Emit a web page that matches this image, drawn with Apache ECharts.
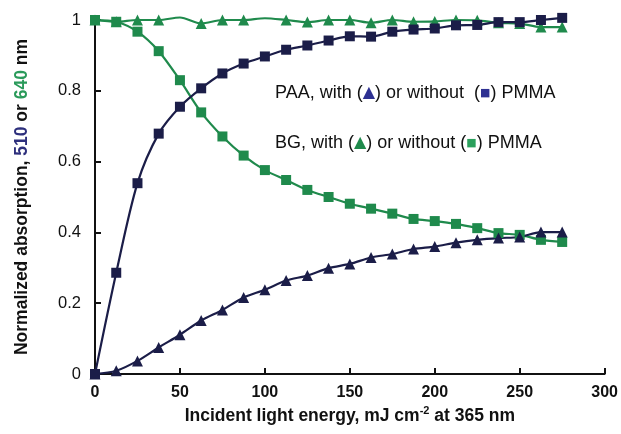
<!DOCTYPE html>
<html>
<head>
  <meta charset="UTF-8">
  <title>Normalized absorption</title>
  <script src="https://cdn.jsdelivr.net/npm/echarts@6/dist/echarts.min.js"></script>
  <style>
    html, body { margin: 0; padding: 0; background: #fff; }
    #main { width: 621px; height: 434px; }
  </style>
</head>
<body>
<div id="main"></div>
<script>
  // incident energy, mJ cm-2
  const energy = [0, 12.5, 25, 37.5, 50, 62.5, 75, 87.5, 100, 112.5, 125, 137.5, 150,
    162.5, 175, 187.5, 200, 212.5, 225, 237.5, 250, 262.5, 275];
  // PAA (510 nm)
  const paaWithout = [0, 0.286, 0.539, 0.679, 0.755, 0.807, 0.849, 0.877, 0.897, 0.916, 0.928, 0.942,
    0.954, 0.953, 0.967, 0.973, 0.976, 0.985, 0.986, 0.994, 0.994, 1.0, 1.006];
  const paaWith = [0, 0.009, 0.037, 0.075, 0.111, 0.151, 0.181, 0.216, 0.238, 0.264, 0.278, 0.299,
    0.311, 0.329, 0.339, 0.353, 0.360, 0.371, 0.379, 0.384, 0.387, 0.401, 0.401];
  // BG (640 nm)
  const bgWithout = [1.0, 0.995, 0.967, 0.912, 0.830, 0.739, 0.671, 0.617, 0.576, 0.548, 0.520, 0.500,
    0.481, 0.467, 0.453, 0.438, 0.432, 0.424, 0.412, 0.398, 0.393, 0.379, 0.373];
  const bgWith = [1.0, 0.995, 1.0, 1.0, 1.007, 0.99, 1.0, 1.0, 1.005, 1.0, 0.994, 1.0,
    1.0, 0.992, 1.0, 0.995, 0.996, 1.0, 0.999, 0.992, 0.99, 0.98, 0.98];
  // points of the BG-with curve drawn without a marker
  const bgWithNoMarker = [50, 100];

  const xTicks = [0, 50, 100, 150, 200, 250, 300];
  const yTicks = [0, 0.2, 0.4, 0.6, 0.8, 1];

  const NAVY = '#1b1d48';
  const GREEN = '#1f8a4c';
  const FONT = 'Liberation Sans, Arial, sans-serif';

  function pairs(ys, skip) {
    return energy.map(function (x, i) {
      let item = { value: [x, ys[i]] };
      if (skip && skip.indexOf(x) >= 0) item.symbol = 'none';
      return item;
    });
  }

  function lineSeries(name, ys, color, symbol, size, skip) {
    return {
      name: name,
      type: 'line',
      data: pairs(ys, skip),
      smooth: 0.3,
      clip: false,
      symbol: symbol,
      symbolSize: size,
      showAllSymbol: true,
      lineStyle: { color: color, width: 2.2 },
      itemStyle: { color: color, borderWidth: 0 },
      emphasis: { disabled: true },
    };
  }

  let myChart = echarts.init(document.getElementById('main'), null, {renderer: 'canvas'});
  let option = {
    animation: false,
    backgroundColor: '#fff',
    textStyle: { fontFamily: FONT },
    grid: { left: 95, right: 14, top: 20, bottom: 60, containLabel: false },
    xAxis: {
      type: 'value',
      min: xTicks[0],
      max: xTicks[xTicks.length - 1],
      interval: 50,
      splitLine: { show: false },
      axisLine: { lineStyle: { color: '#111', width: 2 } },
      axisTick: { inside: true, length: 6, lineStyle: { color: '#111', width: 2 } },
      axisLabel: { color: '#111', fontSize: 16, fontWeight: 'bold', margin: 11 },
      name: 'Incident light energy, mJ cm{sup|-2} at 365 nm',
      nameLocation: 'middle',
      nameGap: 30,
      nameTextStyle: {
        color: '#111', fontSize: 17.5, fontWeight: 'bold',
        rich: {
          sup: { fontSize: 11, fontWeight: 'bold', color: '#111', padding: [0, 0, 10, 0] },
        },
      },
    },
    yAxis: {
      type: 'value',
      min: yTicks[0],
      max: yTicks[yTicks.length - 1],
      interval: 0.2,
      splitLine: { show: false },
      axisLine: { show: true, lineStyle: { color: '#111', width: 2 } },
      axisTick: { show: true, inside: true, length: 6, lineStyle: { color: '#111', width: 2 } },
      axisLabel: { color: '#111', fontSize: 16.5, margin: 14 },
      name: 'Normalized absorption, {n|510} or {g|640} nm',
      nameLocation: 'middle',
      nameRotate: 90,
      nameGap: 64,
      nameTextStyle: {
        color: '#111', fontSize: 17.5, fontWeight: 'bold',
        rich: {
          n: { color: '#2d2f7c', fontSize: 17.5, fontWeight: 'bold' },
          g: { color: '#2a9a5a', fontSize: 17.5, fontWeight: 'bold' },
        },
      },
    },
    graphic: [
      {
        type: 'text', left: 275, top: 84,
        style: {
          text: 'PAA, with ({tn|▲}) or without  ({sn|■}) PMMA',
          fontFamily: FONT, fontSize: 18, fill: '#111',
          rich: {
            tn: { fill: '#2e3192', fontSize: 16, fontFamily: 'DejaVu Sans' },
            sn: { fill: '#2e3192', fontSize: 11, fontFamily: 'DejaVu Sans' },
          },
        },
      },
      {
        type: 'text', left: 275, top: 134,
        style: {
          text: 'BG, with ({tg|▲}) or without ({sg|■}) PMMA',
          fontFamily: FONT, fontSize: 18, fill: '#111',
          rich: {
            tg: { fill: '#1f8a4c', fontSize: 16, fontFamily: 'DejaVu Sans' },
            sg: { fill: '#2ba05c', fontSize: 11, fontFamily: 'DejaVu Sans' },
          },
        },
      },
    ],
    series: [
      lineSeries('BG with PMMA', bgWith, GREEN, 'triangle', 11, bgWithNoMarker),
      lineSeries('BG without PMMA', bgWithout, GREEN, 'rect', 10),
      lineSeries('PAA with PMMA', paaWith, NAVY, 'triangle', 11),
      lineSeries('PAA without PMMA', paaWithout, NAVY, 'rect', 10),
    ],
  };
  myChart.setOption(option);

  window.addEventListener("resize", function () {
    myChart.resize();
  });
</script>
</body>
</html>
